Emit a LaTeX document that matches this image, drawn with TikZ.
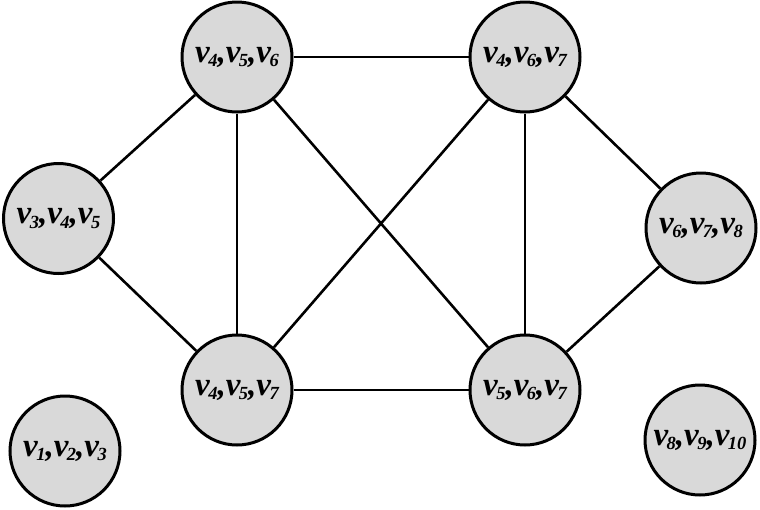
\documentclass[tikz,border=0pt]{standalone}
\usepackage{fontspec}
\setmainfont{Liberation Serif}[BoldItalicFont={Liberation Serif Bold Italic}]
\begin{document}
\begin{tikzpicture}[x=1pt,y=-1pt,
  clique/.style={circle,draw=black,line width=3pt,fill={rgb,255:red,217;green,217;blue,217},minimum size=110pt,inner sep=0pt,font=\fontsize{33}{35}\selectfont\bfseries\itshape},
  edge/.style={line width=2.6pt,draw=black}]
\useasboundingbox (0,0) rectangle (760,509);
\newcommand{\vv}[1]{v\kern-1.5pt\raisebox{-4.5pt}{\fontsize{18.5}{19}\selectfont #1}}
\node[clique] (a) at (237,57) {\vv{4},\vv{5},\vv{6}};
\node[clique] (b) at (525,57) {\vv{4},\vv{6},\vv{7}};
\node[clique] (c) at (58.5,218.5) {\vv{3},\vv{4},\vv{5}};
\node[clique] (d) at (701,228) {\vv{6},\vv{7},\vv{8}};
\node[clique] (e) at (237,390) {\vv{4},\vv{5},\vv{7}};
\node[clique] (f) at (525,390) {\vv{5},\vv{6},\vv{7}};
\node[clique] (g) at (65,451) {\vv{1},\vv{2},\vv{3}};
\node[clique] (h) at (700,440) {\vv{8},\vv{9},\vv{10}};
\draw[edge] (a) -- (b);
\draw[edge] (a) -- (c);
\draw[edge] (a) -- (e);
\draw[edge] (a) -- (f);
\draw[edge] (b) -- (e);
\draw[edge] (b) -- (f);
\draw[edge] (b) -- (d);
\draw[edge] (c) -- (e);
\draw[edge] (e) -- (f);
\draw[edge] (f) -- (d);
\end{tikzpicture}
\end{document}
